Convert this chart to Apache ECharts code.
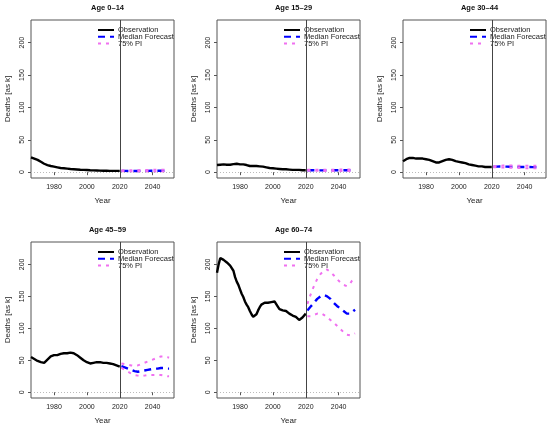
<!DOCTYPE html>
<html>
<head>
<meta charset="utf-8">
<script src="https://cdn.jsdelivr.net/npm/echarts@6/dist/echarts.min.js"></script>
<style>html,body{margin:0;padding:0;background:#fff}#c{width:550px;height:427px}</style>
</head>
<body>
<div id="c"></div>
<script>
// ---- data ----
const obsYears = [1966,1967,1968,1969,1970,1971,1972,1973,1974,1975,1976,1977,1978,1979,1980,1981,1982,1983,1984,1985,1986,1987,1988,1989,1990,1991,1992,1993,1994,1995,1996,1997,1998,1999,2000,2001,2002,2003,2004,2005,2006,2007,2008,2009,2010,2011,2012,2013,2014,2015,2016,2017,2018,2019,2020];
const fcYears = [2021,2022,2023,2024,2025,2026,2027,2028,2029,2030,2031,2032,2033,2034,2035,2036,2037,2038,2039,2040,2041,2042,2043,2044,2045,2046,2047,2048,2049,2050];
const ageGroups = ['Age 0–14','Age 15–29','Age 30–44','Age 45–59','Age 60–74'];
const xTicks = [1980,2000,2020,2040];
const yTicks = [0,50,100,150,200];

const obs0_14 = [23,22,21,20,19,17.5,16,14.5,13,12,11,10,9.5,9,8.5,8,7.5,7,6.5,6.2,6,5.7,5.5,5.3,5,4.8,4.6,4.4,4.2,4,3.8,3.6,3.5,3.4,3.3,3.1,3,2.9,2.8,2.7,2.6,2.5,2.4,2.3,2.2,2.2,2.1,2.1,2,2,2,2,2,2,2];
const med0_14 = [2.0,2.0,2.0,2.0,1.9,1.9,1.9,1.9,1.9,1.9,1.9,1.9,2.0,2.0,2.0,2.0,2.0,2.1,2.1,2.1,2.1,2.2,2.2,2.2,2.2,2.3,2.3,2.3,2.3,2.4];
const hi0_14 = [2.6,2.7,2.8,2.8,2.9,2.9,3.0,3.0,3.0,3.1,3.1,3.1,3.2,3.2,3.3,3.3,3.4,3.4,3.5,3.5,3.6,3.6,3.7,3.7,3.8,3.9,4.0,4.1,4.3,4.5];
const lo0_14 = [1.5,1.4,1.4,1.3,1.3,1.2,1.2,1.2,1.1,1.1,1.1,1.1,1.1,1.1,1.1,1.1,1.1,1.1,1.1,1.1,1.1,1.1,1.1,1.1,1.1,1.1,1.1,1.1,1.1,1.1];

const obs15_29 = [11,11,11.5,12,12,12.5,11.5,11,11.5,12,12.5,12.5,13,12.5,12,12,12,11.5,11,10,9.5,9.5,9.5,9.5,9.5,9.5,9,9,8.5,8,7.5,7,6.5,6.5,6,5.5,5.5,5,5,4.5,4.5,4.5,4.5,4,4,4,3.5,3.5,3.5,3.5,3.5,3.5,3,3,3];
const med15_29 = [3.0,3.0,2.9,2.9,2.9,2.8,2.8,2.8,2.8,2.8,2.8,2.8,2.8,2.8,2.8,2.9,2.9,2.9,2.9,2.9,2.9,3.0,3.0,3.0,3.0,3.0,3.0,3.1,3.1,3.1];
const hi15_29 = [3.6,3.6,3.6,3.6,3.6,3.6,3.6,3.6,3.6,3.7,3.7,3.7,3.7,3.8,3.8,3.8,3.9,3.9,3.9,4.0,4.0,4.1,4.1,4.1,4.2,4.2,4.3,4.4,4.5,4.7];
const lo15_29 = [2.4,2.3,2.3,2.2,2.2,2.1,2.1,2.1,2.0,2.0,2.0,2.0,2.0,2.0,2.0,2.0,2.0,2.0,2.0,2.0,2.0,2.0,2.0,2.0,2.0,2.0,2.0,2.0,2.0,2.0];

const obs30_44 = [17,19,20,21,22,22,22,22,21,21,21,21,21,20,20,20,19,18,17,16,15,15,15,16,17,18,19,20,20,19,19,18,17,17,16,16,15,14,14,13,12,12,11,11,10,10,9,9,9,8,8,8,8,8,8];
const med30_44 = [8.5,8.6,8.6,8.7,8.7,8.7,8.6,8.6,8.5,8.5,8.4,8.4,8.3,8.3,8.2,8.2,8.1,8.1,8.0,8.0,8.0,7.9,7.9,7.9,7.8,7.8,7.8,7.8,7.8,7.8];
const hi30_44 = [9.3,9.5,9.7,9.9,10.0,10.1,10.2,10.2,10.2,10.2,10.2,10.2,10.2,10.2,10.1,10.1,10.1,10.0,10.0,10.0,10.0,10.0,10.0,10.0,10.0,10.0,10.0,10.1,10.1,10.2];
const lo30_44 = [7.7,7.6,7.5,7.4,7.3,7.2,7.1,7.0,6.9,6.8,6.8,6.7,6.6,6.6,6.5,6.5,6.4,6.3,6.3,6.2,6.2,6.1,6.1,6.0,6.0,6.0,6.0,6.0,6.0,6.0];

const obs45_59 = [55,54,52,50,49,48,47,46,46,48,51,54,56,57,58,58,58,59,60,61,61,62,61,62,62,61,61,60,58,56,54,52,50,48,47,46,45,45,46,47,47,47,47,46,46,46,46,45,45,45,44,43,42,41,40];
const med45_59 = [41,40,39,38,37,36,35,34,33,33,32,32,33,33,34,35,35,36,36,36,37,37,37,38,38,38,38,37,37,37];
const hi45_59 = [45,45,44,43,43,42,42,41,41,41,42,43,44,45,46,47,48,49,50,51,52,53,54,55,56,56,56,55,55,54];
const lo45_59 = [38,37,35,33,32,30,29,28,27,26,26,25,25,25,26,26,27,27,27,27,27,27,27,27,27,26,26,25,25,25];

const obs60_74 = [187,200,210,212,207,205,203,200,198,196,190,180,173,168,161,154,149,142,137,133,127,122,118,118,122,128,133,137,140,140,139,140,140,141,142,142,140,134,130,128,128,128,127,125,123,121,120,118,118,116,113,115,117,117,123];
const med60_74 = [128,131,134,137,140,143,146,148,150,151,152,151,150,148,146,143,140,137,135,133,131,129,127,125,123,122,123,125,127,129];
const hi60_74 = [138,146,153,160,166,172,177,181,185,188,190,191,192,190,188,186,183,180,177,175,172,170,168,167,166,167,170,174,177,180];
const lo60_74 = [119,119,119,120,121,122,123,124,124,123,121,119,117,115,113,111,109,106,104,101,99,96,94,92,90,89,89,90,91,92];

const obsAll = [obs0_14, obs15_29, obs30_44, obs45_59, obs60_74];
const medAll = [med0_14, med15_29, med30_44, med45_59, med60_74];
const hiAll  = [hi0_14, hi15_29, hi30_44, hi45_59, hi60_74];
const loAll  = [lo0_14, lo15_29, lo30_44, lo45_59, lo60_74];

// ---- layout ----
const panels = [
  {l:31, t:20, h:158}, {l:217, t:20, h:158}, {l:403, t:20, h:158},
  {l:31, t:242, h:156}, {l:217, t:242, h:156}
];
const W = 143;
const FONT = "'Liberation Sans', Arial, sans-serif";
const txt = '#222';
const frame = '#555';

const pair = (xs, ys) => xs.map((x, i) => [x, ys[i]]);

const option = {
  animation: false,
  backgroundColor: '#fff',
  title: [], grid: [], xAxis: [], yAxis: [], legend: [], series: []
};

panels.forEach((p, i) => {
  option.title.push({
    text: ageGroups[i], left: p.l + W / 2, top: p.t - 21, textAlign: 'center',
    textStyle: {fontFamily: FONT, fontSize: 7.5, fontWeight: 'bold', color: '#111'}
  });
  option.grid.push({left: p.l, top: p.t, width: W, height: p.h, show: true,
    borderColor: frame, borderWidth: 1, backgroundColor: 'transparent', containLabel: false});
  option.xAxis.push({
    type: 'value', gridIndex: i, min: 1966, max: 2053,
    name: 'Year', nameLocation: 'middle', nameGap: 19,
    nameTextStyle: {fontFamily: FONT, fontSize: 8, color: txt},
    axisLine: {show: false},
    axisTick: {show: true, inside: false, length: 3, customValues: xTicks, lineStyle: {color: frame}},
    axisLabel: {customValues: xTicks, margin: 6, fontFamily: FONT, fontSize: 7, color: txt,
      formatter: v => String(v)},
    splitLine: {show: false}
  });
  option.yAxis.push({
    type: 'value', gridIndex: i, min: -9, max: 235,
    name: 'Deaths [as k]', nameLocation: 'middle', nameGap: 19,
    nameTextStyle: {fontFamily: FONT, fontSize: 8, color: txt},
    axisLine: {show: false},
    axisTick: {show: true, inside: false, length: 3, customValues: yTicks, lineStyle: {color: frame}},
    axisLabel: {customValues: yTicks, rotate: 90, margin: 5, fontFamily: FONT, fontSize: 7, color: txt,
      formatter: v => String(v)},
    splitLine: {show: false}
  });
  option.legend.push({
    left: p.l + 66, top: p.t + 6, orient: 'vertical',
    itemWidth: 16, itemHeight: 5, itemGap: -1.2, padding: 0,
    itemStyle: {opacity: 0},
    textStyle: {fontFamily: FONT, fontSize: 7.5, color: txt, lineHeight: 7, padding: [0, 0, 0, -1]},
    data: ['Observation', 'Median Forecast', '75% PI'],
    selectedMode: false
  });
  option.series.push({
    name: 'Observation', type: 'line', xAxisIndex: i, yAxisIndex: i,
    data: pair(obsYears, obsAll[i]), symbol: 'none', z: 3,
    lineStyle: {color: '#000', width: 2.4}, itemStyle: {color: '#000'},
    markLine: {
      silent: true, symbol: 'none', label: {show: false}, animation: false,
      data: [
        {xAxis: 2020, lineStyle: {color: '#444', width: 1, type: 'solid'}},
        {yAxis: 0, lineStyle: {color: '#bbb', width: 1, type: [1, 2]}}
      ]
    }
  });
  option.series.push({
    name: 'Median Forecast', type: 'line', xAxisIndex: i, yAxisIndex: i,
    data: pair(fcYears, medAll[i]), symbol: 'none', z: 4,
    lineStyle: {color: '#0000ff', width: 2.4, type: [7, 5]}, itemStyle: {color: '#0000ff'}
  });
  option.series.push({
    name: '75% PI', type: 'line', xAxisIndex: i, yAxisIndex: i,
    data: pair(fcYears, hiAll[i]), symbol: 'none', z: 4,
    lineStyle: {color: '#f070f0', width: 2, type: [3, 5]}, itemStyle: {color: '#f070f0'}
  });
  option.series.push({
    name: '75% PI', type: 'line', xAxisIndex: i, yAxisIndex: i,
    data: pair(fcYears, loAll[i]), symbol: 'none', z: 4,
    lineStyle: {color: '#f070f0', width: 2, type: [3, 5]}, itemStyle: {color: '#f070f0'}
  });
});

const chart = echarts.init(document.getElementById('c'), null, {renderer: 'canvas'});
chart.setOption(option);
</script>
</body>
</html>
